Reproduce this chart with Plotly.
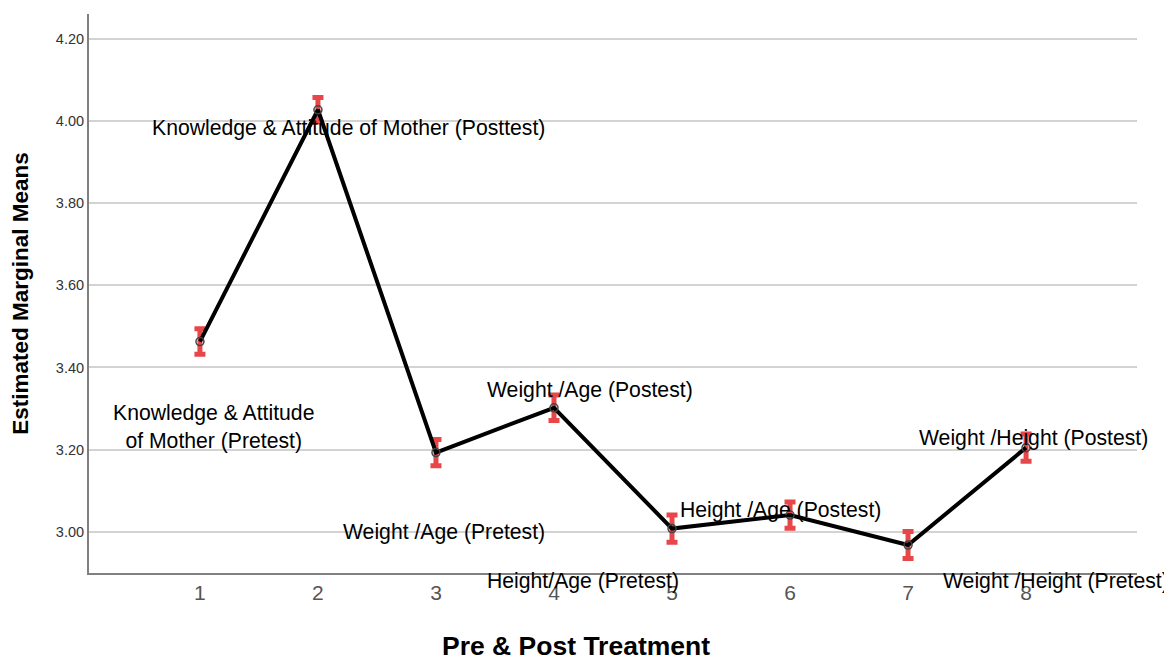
import plotly.graph_objects as go

# Data
x_vals = [1, 2, 3, 4, 5, 6, 7, 8]
means = [3.463, 4.027, 3.193, 3.302, 3.008, 3.041, 2.968, 3.205]
err = [0.031, 0.030, 0.032, 0.031, 0.033, 0.032, 0.033, 0.033]
y_ticks = [3.00, 3.20, 3.40, 3.60, 3.80, 4.00, 4.20]
x_ticks = [1, 2, 3, 4, 5, 6, 7, 8]
labels = [
    "Knowledge & Attitude of Mother (Posttest)",
    "Knowledge & Attitude<br>of Mother (Pretest)",
    "Weight /Age (Postest)",
    "Weight /Age (Pretest)",
    "Height/Age (Pretest)",
    "Height /Age (Postest)",
    "Weight /Height (Postest)",
    "Weight /Height (Pretest)",
]
x_title = "Pre & Post Treatment"
y_title = "Estimated Marginal Means"

# annotation placement (layout): x in data units, y in paper fraction
label_pos = [
    (2.255, 0.796),
    (1.111, 0.261),
    (4.306, 0.327),
    (3.068, 0.073),
    (4.246, -0.014),
    (5.916, 0.113),
    (8.06, 0.2415),
    (8.255, -0.014),
]

FONT = "Arial, Liberation Sans, sans-serif"

fig = go.Figure()
fig.add_trace(go.Scatter(
    x=x_vals, y=means, mode="lines+markers",
    line=dict(color="black", width=4),
    marker=dict(symbol="circle-open", size=8, color="#444", line=dict(width=1.5)),
    error_y=dict(type="data", array=err, visible=True, color="#e8474a",
                 thickness=5, width=5.5),
    showlegend=False,
))

annotations = []
for txt, (ax, ay) in zip(labels, label_pos):
    annotations.append(dict(
        x=ax, y=ay, xref="x", yref="paper", text=txt, showarrow=False,
        xanchor="center", yanchor="middle",
        font=dict(family=FONT, size=21.2, color="black"),
    ))
annotations.append(dict(
    x=0.4647, y=-0.130, xref="paper", yref="paper",
    text=f"<b>{x_title}</b>", showarrow=False,
    xanchor="center", yanchor="middle",
    font=dict(family=FONT, size=26.5, color="black"),
))

fig.update_layout(
    width=1164, height=652,
    margin=dict(l=81, r=35, t=6, b=87, autoexpand=False),
    plot_bgcolor="white", paper_bgcolor="white",
    font=dict(family=FONT),
    annotations=annotations,
    xaxis=dict(
        range=[0.06, 8.94], tickvals=x_ticks, ticktext=[str(t) for t in x_ticks],
        showgrid=False, zeroline=False, automargin=False,
        showline=True, linecolor="#808080", linewidth=2,
        ticks="", tickfont=dict(family=FONT, size=21, color="#555"),
    ),
    yaxis=dict(
        range=[2.90, 4.26], tickvals=y_ticks,
        ticktext=[f"{t:.2f}" for t in y_ticks],
        showgrid=True, gridcolor="#d3d3d3", gridwidth=2,
        zeroline=False, showline=True, linecolor="#808080", linewidth=2,
        automargin=False,
        ticks="", tickfont=dict(family=FONT, size=14.5, color="#333"),
        title=dict(text=f"<b>{y_title}</b>",
                   font=dict(family=FONT, size=22.5, color="black"), standoff=22),
    ),
)

fig.write_html("out.html")
